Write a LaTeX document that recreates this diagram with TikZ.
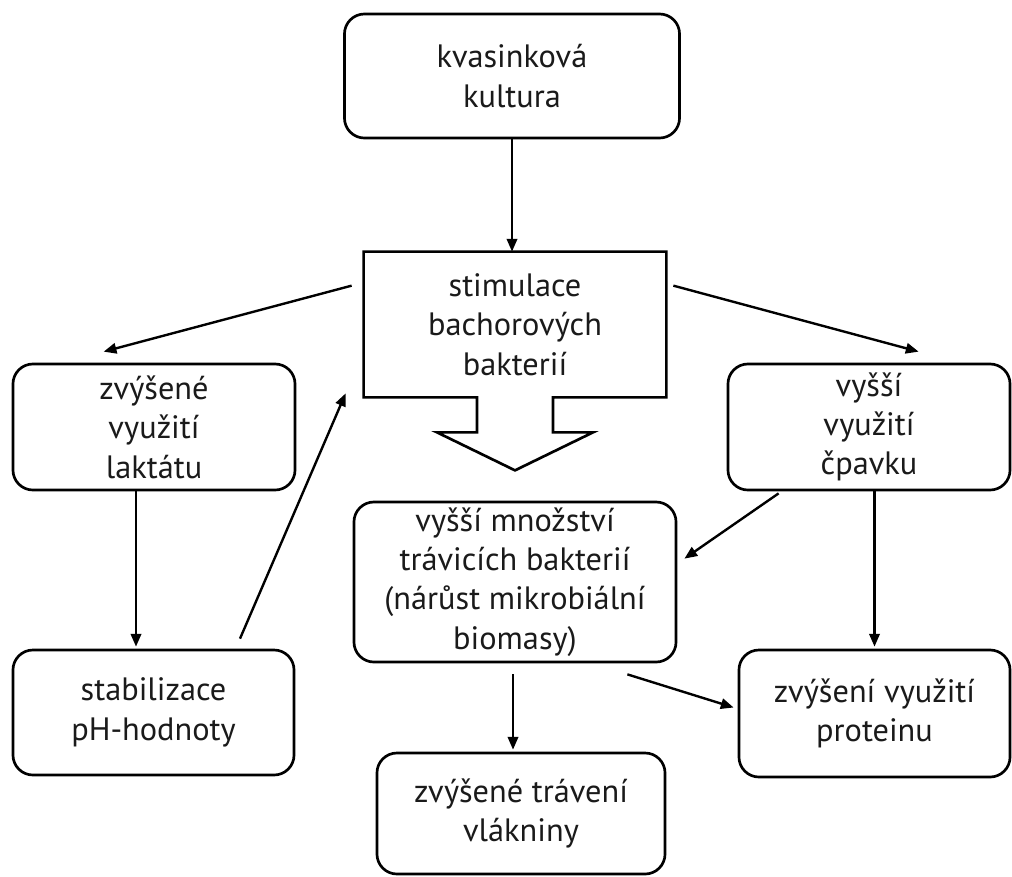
\documentclass[tikz,border=0pt]{standalone}
\usepackage{fontspec}
\setmainfont{PT Sans}
\usetikzlibrary{arrows.meta, calc}
\definecolor{inkgray}{RGB}{26, 26, 26}

\begin{document}
\begin{tikzpicture}[x=0.025cm, y=-0.025cm,
  rbox/.style 2 args={draw, rounded corners=0.5cm, line width=1.9pt, minimum width=#1, minimum height=#2, align=center, inner sep=0pt, text=inkgray, font=\fontsize{23}{28}\selectfont},
  arr/.style={-{Triangle[length=3.2mm, width=2.6mm]}, line width=1.7pt}
]
  \useasboundingbox (0,0) rectangle (1012,876);

  \node[rbox={8.375cm}{3.1cm}] (kvas) at (512,76) {kvasinková\\kultura};
  \node[rbox={7.5cm}{3.575cm}, draw=none, rounded corners=0pt] (stim) at (515,324.5) {stimulace\\bachorových\\bakterií};
  \node[rbox={7.05cm}{3.15cm}] (lakt) at (154,427) {zvýšené\\využití\\laktátu};
  \node[rbox={7.05cm}{3.15cm}] (cpav) at (869,427) {vyšší\\využití\\čpavku};
  \node[rbox={8.05cm}{4cm}] (mnoz) at (515,582) {vyšší množství\\trávicích bakterií\\(nárůst mikrobiální\\biomasy)};
  \node[rbox={7.025cm}{3.125cm}] (stab) at (153.5,712.5) {stabilizace\\pH-hodnoty};
  \node[rbox={6.775cm}{3.175cm}] (prot) at (874.5,713.5) {zvýšení využití\\proteinu};
  \node[rbox={7.2cm}{3.025cm}] (vlak) at (521,813.5) {zvýšené trávení\\vlákniny};

  \draw[line width=1.9pt] (stim.south west) -- (stim.north west) -- (stim.north east) -- (stim.south east)
    -- ($(stim.south)+(38,0)$) -- ++(0,35) -- ++(40,0) -- ($(stim.south)+(0,73)$)
    -- ($(stim.south)+(-78,35)$) -- ++(40,0) -- ++(0,-35) -- cycle;

  \draw[arr] (kvas.south) -- (kvas.south |- stim.north);
  \draw[arr] ($(stim.north west)+(-12,34)$) -- ($(lakt.north west)+(92,-11)$);
  \draw[arr] ($(stim.north east)+(7,34)$) -- ($(cpav.north west)+(192,-11)$);
  \draw[arr] ($(lakt.south)+(-18,0)$) -- ($(stab.north)+(-17.5,-2)$);
  \draw[arr] ($(stab.north)+(86.5,-10)$) -- ($(stim.south west)+(-18,-4)$);
  \draw[arr] ($(cpav.south west)+(52,2)$) -- ($(mnoz.north east)+(7,58)$);
  \draw[arr] (prot.north |- cpav.south) -- ($(prot.north)+(0,-2)$);
  \draw[arr] ($(mnoz.south)+(-2,11)$) -- ($(vlak.north)+(-8,-2)$);
  \draw[arr] ($(mnoz.south east)+(-50,11)$) -- ($(prot.west)+(-4,-6)$);
\end{tikzpicture}
\end{document}
